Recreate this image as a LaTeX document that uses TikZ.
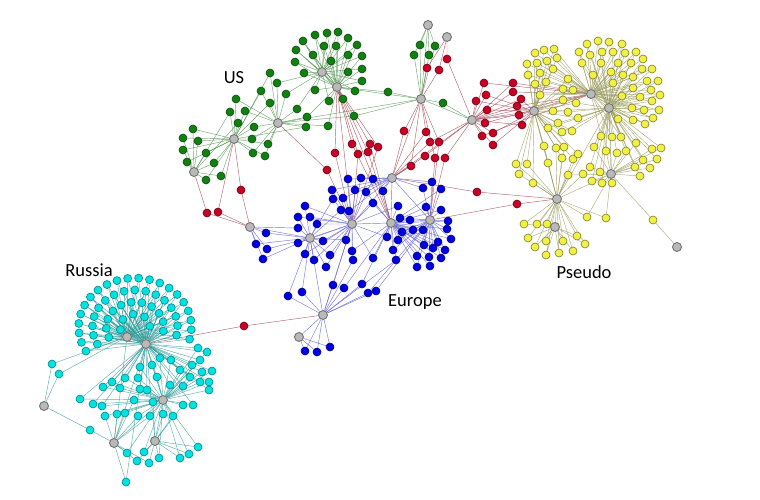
\documentclass[tikz,border=0pt]{standalone}
\usepackage{fontspec}
\newfontfamily\lblfont{Carlito}
\definecolor{usgreen}{RGB}{16,128,16}
\definecolor{usline}{RGB}{80,145,80}
\definecolor{eublue}{RGB}{0,0,225}
\definecolor{euline}{RGB}{90,90,205}
\definecolor{lkred}{RGB}{200,0,35}
\definecolor{lkline}{RGB}{165,75,90}
\definecolor{psyellow}{RGB}{240,240,70}
\definecolor{psline}{RGB}{125,125,35}
\definecolor{psedgecol}{RGB}{155,155,95}
\definecolor{rucyan}{RGB}{0,225,225}
\definecolor{ruline}{RGB}{0,135,135}
\definecolor{ruedgecol}{RGB}{40,150,150}
\definecolor{hubfill}{RGB}{185,185,185}
\definecolor{hubline}{RGB}{115,115,115}
\pgfdeclarelayer{edges}
\pgfsetlayers{edges,main}

% leaves: x/y/first hub/second hub
\def\uslist{303/41/u1/u2, 315/35/u1/u2, 327/33/u1/u2, 338/32/u1/u2,
  348/38/u1/u2, 357/45/u1/u2, 362/56/u1/u2, 362/69/u1/u2, 362/81/u1/u2, 355/91/u1/u2,
  343/99/u1/u2, 329/101/u1/u2, 315/90/u1/u2, 304/73/u1/u2, 295/62/u1/u2, 296/50/u1/u2,
  313/55/u1/u2, 324/46/u1/u2, 336/46/u1/u2, 348/55/u1/u2, 331/61/u1/u2, 348/72/u1/u2,
  270/73/u3/u4, 277/83/u3/u1, 261/91/u3/u4, 286/94/u3/u1, 270/103/u3/u4, 297/109/u3/u1,
  307/117/u3/u2, 306/127/u3/u4, 328/126/u3/u2, 354/116/u3/h,
  236/99/u4/u3, 230/112/u4/u5, 245/111/u4/u3, 238/123/u4/u5, 254/127/u4/u3, 252/139/u4/u3,
  268/144/u4/u3, 253/153/u4/u3, 265/156/u4/u3,
  193/129/u5/u4, 183/138/u5/u4, 198/141/u5/u4, 183/150/u5/u4, 187/162/u5/u4, 206/153/u5/u4,
  214/163/u5/u4, 206/180/u5/u4, 221/176/u5/u4,
  388/92/u2/h, 443/103/h/x, 420/45/t1/h, 435/46/t1/h, 414/55/t1/h, 429/55/t1/h}
\def\lklist{447/59/t2/x, 439/70/t2/h, 427/68/t2/h,
  404/131/h/e1, 426/132/h/e1, 430/142/x/e1, 439/142/h/e6, 425/156/x/e1, 435/158/h/e6,
  445/158/x/e6, 411/166/h/e1,
  352/144/u2/e5, 370/144/u2/e5, 378/147/u2/e4, 358/154/u2/e4, 368/152/u2/e5, 335/153/u2/e4,
  327/170/u3/e4, 241/190/u4/e2, 207/213/u5/e2, 218/212/u4/e2, 244/326/r2/e7,
  477/192/e1/p6, 517/204/e6/p6,
  484/83/x/p3, 513/83/x/p3, 476/101/x/p2, 486/95/x/p2, 513/92/x/p3, 521/99/x/p2,
  517/106/x/p3, 487/110/x/p2, 519/115/x/p2, 485/123/x/p3, 522/125/x/p2, 493/133/x/p2,
  482/136/x/p3, 493/145/x/p2}
\def\eulist{348/179/e1/e4, 361/178/e1/e4, 373/179/e1/e4, 383/191/e1/e5,
  332/190/e1/e4, 355/190/e1/e4, 366/192/e1/e5,
  333/199/e4/e3, 343/198/e4/e1, 373/203/e4/e5, 341/210/e4/e3, 349/211/e4/e1, 305/206/e4/e3,
  346/240/e4/e3, 352/251/e4/e5, 353/260/e4/e7, 330/255/e4/e3, 323/241/e4/e3,
  298/217/e3/e4, 310/217/e3/e4, 317/224/e3/e4, 298/228/e3/e2, 298/243/e3/e4, 305/254/e3/e4,
  314/260/e3/e4, 326/267/e3/e4, 266/233/e3/e2,
  256/244/e2/e3, 267/249/e2/e3, 263/259/e2/e3,
  398/206/e5/e4, 400/218/e5/e6, 402/232/e5/e6, 387/237/e5/e4, 393/250/e5/e6, 396/260/e5/e7,
  398/240/e5/e6, 373/258/e5/e4,
  423/188/e6/e1, 432/182/e6/e1, 441/189/e6/e5, 426/207/e6/e5, 441/210/e6/e5, 410/220/e6/e5,
  413/230/e6/e5, 423/230/e6/e5, 438/242/e6/e5, 447/229/e6/e5, 448/221/e6/e5, 451/239/e6/e5,
  424/245/e6/e5, 433/248/e6/e5, 445/250/e6/e5, 417/256/e6/e5, 429/257/e6/e5, 441/258/e6/e5,
  417/267/e6/e5, 430/266/e6/e5,
  333/285/e7/e4, 344/288/e7/e5, 362/284/e7/e5, 368/293/e7/e6, 376/291/e7/e6, 302/292/e7/e3,
  288/296/e7/e3,
  305/351/e8/e7, 317/352/e8/e7, 330/347/e8/e7}
\def\pslist{535/53/p2/p3, 544/50/p2/p3, 554/49/p2/p3, 527/64/p2/p3,
  537/63/p2/p3, 547/61/p2/p3, 557/58/p2/p3, 528/75/p2/p3, 540/73/p2/p3, 553/69/p2/p3,
  535/84/p2/p3, 546/82/p2/p3, 540/95/p2/p3, 563/89/p2/p3, 568/79/p2/p3, 573/90/p2/p3,
  563/100/p2/p3, 576/103/p2/p4, 553/111/p2/p4, 568/112/p2/p4, 548/128/p2/p4, 558/123/p2/p4,
  562/132/p2/p4, 572/131/p2/p4, 578/118/p2/p4,
  587/44/p3/p4, 598/41/p3/p4, 609/42/p3/p4, 622/44/p3/p4, 579/52/p3/p4, 590/55/p3/p4,
  602/52/p3/p4, 613/52/p3/p4, 625/53/p3/p4, 636/52/p3/p4, 582/63/p3/p4, 601/63/p3/p4,
  618/63/p3/p4, 631/63/p3/p4, 643/59/p3/p4, 593/75/p3/p4, 611/72/p3/p4, 623/75/p3/p4,
  633/77/p3/p4, 642/69/p3/p4, 652/69/p3/p4, 647/81/p3/p4, 658/81/p3/p4, 651/90/p3/p4,
  660/95/p3/p4, 640/97/p3/p4, 652/101/p3/p4, 632/108/p3/p4, 644/110/p3/p4, 659/110/p3/p4,
  622/96/p3/p4, 633/88/p3/p4, 618/119/p3/p4, 633/120/p3/p4, 645/124/p3/p4, 653/118/p3/p4,
  601/136/p3/p4, 612/137/p3/p4, 621/137/p3/p4, 613/83/p3/p4,
  594/147/p5/p4, 606/151/p5/p4, 617/153/p5/p4, 626/151/p5/p4, 636/143/p5/p4, 643/160/p5/p4,
  652/149/p5/p4, 661/148/p5/p4, 657/159/p5/p4, 650/168/p5/p4, 635/167/p5/p4, 640/176/p5/p4,
  590/167/p5/p4, 600/172/p5/p4, 592/181/p5/p4, 602/183/p5/p4, 612/183/p5/p4, 583/174/p5/p6,
  568/175/p5/p6,
  544/146/p6/p2, 556/148/p6/p2, 564/147/p6/p2, 562/158/p6/p2, 573/159/p6/p2, 578/154/p6/p2,
  548/163/p6/p2, 516/164/p6/p2, 527/164/p6/p2, 519/174/p6/p2, 533/183/p6/p2, 587/217/p6/p5,
  606/218/p6/p5,
  524/224/p7/p6, 537/224/p7/p6, 547/224/p7/p6, 528/238/p7/p6, 535/247/p7/p6, 546/255/p7/p6,
  559/253/p7/p6, 573/251/p7/p6, 585/244/p7/p6, 577/236/p7/p6, 546/241/p7/p6, 563/241/p7/p6,
  653/220/p5/p8}
\def\rulist{198/348/r3/r2, 207/352/r3/r2, 200/360/r3/r2, 212/371/r3/r2,
  209/382/r3/r2, 209/390/r3/r2, 193/405/r3/r2, 183/405/r3/r5, 173/416/r3/r5, 163/414/r3/r5,
  150/416/r3/r4, 138/416/r3/r4, 125/413/r3/r4, 117/414/r3/r4, 105/416/r3/r4, 102/406/r3/r2,
  93/404/r3/r2, 80/399/r3/r2, 103/387/r3/r2, 112/382/r3/r2, 125/378/r3/r2, 120/388/r3/r2,
  140/389/r3/r2, 147/390/r3/r2, 157/377/r3/r2, 170/385/r3/r2, 183/386/r3/r2, 192/365/r3/r2,
  180/370/r3/r2, 190/377/r3/r2, 171/360/r3/r2, 160/358/r3/r2, 152/365/r3/r2, 140/367/r3/r2,
  138/378/r3/r2, 134/400/r3/r4, 153/402/r3/r5, 200/382/r3/r2, 202/372/r3/r2,
  52/364/r6/r1, 59/374/r6/r1, 90/430/r6/r4,
  127/453/r4/r3, 137/461/r4/r5, 126/482/r4/r2,
  144/452/r5/r3, 149/463/r5/r4, 159/458/r5/r3, 180/458/r5/r3, 189/454/r5/r3, 198/447/r5/r3}
\def\ringlist{13/5, 25/11, 37/16, 49/21}

\begin{document}
\begin{tikzpicture}[x=1pt, y=-1pt,
  leaf/.style={circle, inner sep=0pt, minimum size=8pt, line width=0.6pt},
  hub/.style={circle, inner sep=0pt, minimum size=9pt, fill=hubfill, draw=hubline, line width=0.9pt},
  usnode/.style={leaf, fill=usgreen, draw=usgreen!60!black},
  eunode/.style={leaf, fill=eublue, draw=eublue!60!black},
  lknode/.style={leaf, fill=lkred, draw=lkred!55!black},
  psnode/.style={leaf, fill=psyellow, draw=psline},
  runode/.style={leaf, fill=rucyan, draw=ruline},
  usedge/.style={draw=usline, line width=0.45pt, draw opacity=0.8},
  euedge/.style={draw=euline, line width=0.45pt, draw opacity=0.8},
  lkedge/.style={draw=lkline, line width=0.45pt, draw opacity=0.85},
  psedge/.style={draw=psedgecol, line width=0.45pt, draw opacity=0.8},
  ruedge/.style={draw=ruedgecol, line width=0.45pt, draw opacity=0.75},
  lbl/.style={font=\lblfont\fontsize{18.5}{20}\selectfont}]
  \useasboundingbox (0,0) rectangle (760,500);

  % hubs
  \node[hub] (u1) at (322,72) {};
  \node[hub] (u2) at (337,87) {};
  \node[hub] (u3) at (278,123) {};
  \node[hub] (u4) at (234,139) {};
  \node[hub] (u5) at (194,172) {};
  \node[hub] (t1) at (428,25) {};
  \node[hub] (t2) at (447,37) {};
  \node[hub] (h) at (421,99) {};
  \node[hub] (x) at (472,120) {};
  \node[hub] (e1) at (392,178) {};
  \node[hub] (e2) at (250,227) {};
  \node[hub] (e3) at (310,238) {};
  \node[hub] (e4) at (352,224) {};
  \node[hub] (e5) at (391,223) {};
  \node[hub] (e6) at (430,220) {};
  \node[hub] (e7) at (323,315) {};
  \node[hub] (e8) at (299,337) {};
  \node[hub] (p2) at (534,111) {};
  \node[hub] (p3) at (591,94) {};
  \node[hub] (p4) at (609,108) {};
  \node[hub] (p5) at (611,174) {};
  \node[hub] (p6) at (557,199) {};
  \node[hub] (p7) at (555,227) {};
  \node[hub] (p8) at (677,247) {};
  \node[hub] (r1) at (127,337) {};
  \node[hub] (r2) at (146,344) {};
  \node[hub] (r3) at (163,400) {};
  \node[hub] (r4) at (114,443) {};
  \node[hub] (r5) at (155,441) {};
  \node[hub] (r6) at (44,406) {};

  % leaves
  \foreach \x/\y/\hA/\hB [count=\i] in \uslist {\node[usnode] (us\i) at (\x,\y) {};}
  \foreach \x/\y/\hA/\hB [count=\i] in \lklist {\node[lknode] (lk\i) at (\x,\y) {};}
  \foreach \x/\y/\hA/\hB [count=\i] in \eulist {\node[eunode] (eu\i) at (\x,\y) {};}
  \foreach \x/\y/\hA/\hB [count=\i] in \pslist {\node[psnode] (ps\i) at (\x,\y) {};}
  \foreach \x/\y/\hA/\hB [count=\i] in \rulist {\node[runode] (ru\i) at (\x,\y) {};}
  \foreach \r/\n in \ringlist {
    \foreach \k in {1,...,\n} {
      \pgfmathsetmacro\ang{145+235*(\k-0.5)/\n}
      \node[runode] (rd\r-\k) at ({135+1.15*\r*cos(\ang)},{327+\r*sin(\ang)}) {};
    }
  }

  % connectors
  \begin{pgfonlayer}{edges}
    \draw[usedge] (u3) -- (h) (u2) -- (h) (h) -- (x) (u1) -- (u2) (t1) -- (h);
    \draw[lkedge] (x) -- (e1) (u2) -- (e4) (u2) -- (e5) (h) -- (e1) (x) -- (p2) (x) -- (p3);
    \draw[euedge] (e1) -- (e4) (e1) -- (e5) (e4) -- (e5) (e5) -- (e6) (e3) -- (e4) (e2) -- (e3)
      (e7) -- (e3) (e7) -- (e4) (e7) -- (e8) (e1) -- (e6);
    \draw[psedge] (p2) -- (p3) (p3) -- (p4) (p4) -- (p5) (p5) -- (p6) (p6) -- (p7) (p2) -- (p6) (p4) -- (p6);
    \draw[ruedge] (r1) -- (r2) (r2) -- (r3) (r3) -- (r4) (r3) -- (r5) (r2) -- (r4) (r2) -- (r5) (r1) -- (r4);
    \foreach \x/\y/\hA/\hB [count=\i] in \uslist {\draw[usedge] (\hA) -- (us\i) -- (\hB);}
    \foreach \x/\y/\hA/\hB [count=\i] in \lklist {\draw[lkedge] (\hA) -- (lk\i) -- (\hB);}
    \foreach \x/\y/\hA/\hB [count=\i] in \eulist {\draw[euedge] (\hA) -- (eu\i) -- (\hB);}
    \foreach \x/\y/\hA/\hB [count=\i] in \pslist {\draw[psedge] (\hA) -- (ps\i) -- (\hB);}
    \foreach \x/\y/\hA/\hB [count=\i] in \rulist {\draw[ruedge] (\hA) -- (ru\i) -- (\hB);}
    \foreach \r/\n in \ringlist {
      \foreach \k in {1,...,\n} {\draw[ruedge] (r1) -- (rd\r-\k) -- (r2);}
    }
  \end{pgfonlayer}

  % group names
  \node[lbl] (uslabel) at (234,78) {US};
  \node[lbl] (rulabel) at (89,270) {Russia};
  \node[lbl] (eulabel) at (415,302) {Europe};
  \node[lbl] (pslabel) at (584,272) {Pseudo};
\end{tikzpicture}
\end{document}
